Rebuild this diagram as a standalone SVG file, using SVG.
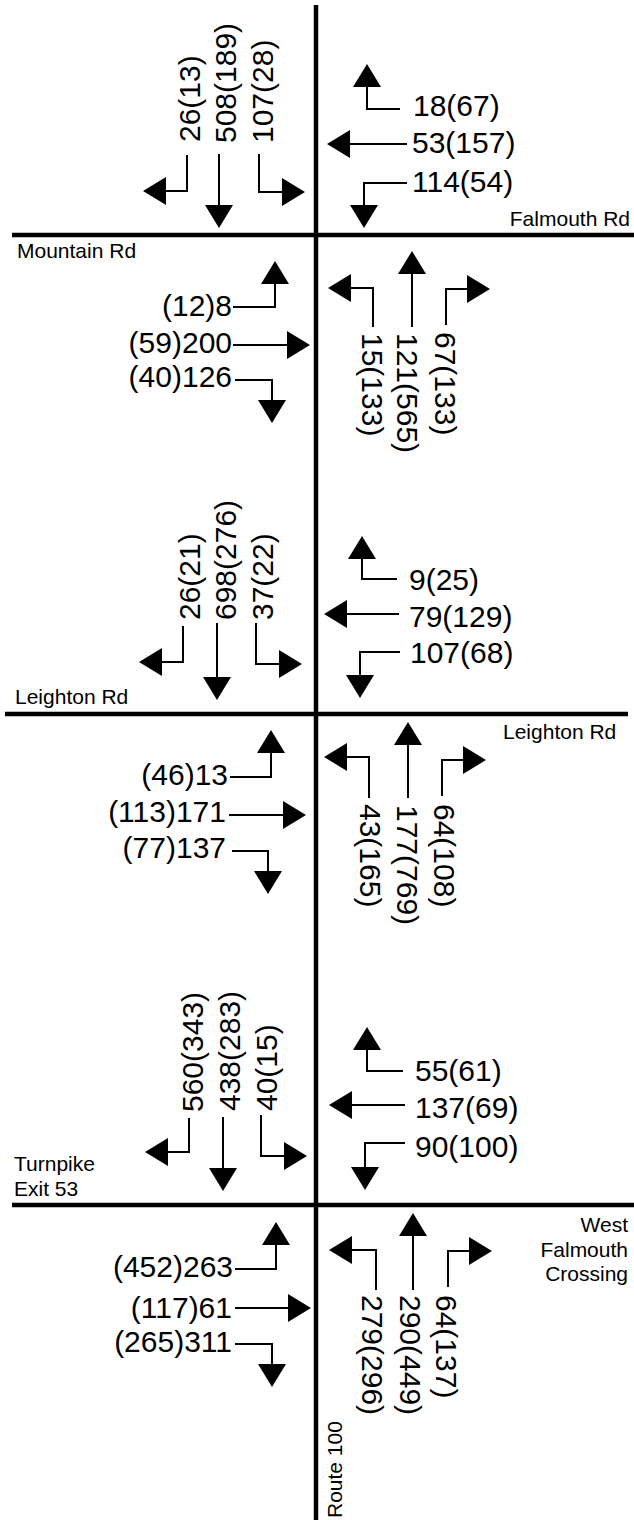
<svg xmlns="http://www.w3.org/2000/svg" width="634" height="1520" viewBox="0 0 634 1520">
<style>
.n{font-family:"Liberation Sans",Arial,sans-serif;font-size:30px;fill:#000}
.s{font-family:"Liberation Sans",Arial,sans-serif;font-size:21px;fill:#000}
.e{text-anchor:end}
.a{fill:none;stroke:#000;stroke-width:2;marker-end:url(#ah)}
.r{stroke:#000;stroke-width:4.5;fill:none}
</style>
<defs>
<marker id="ah" markerUnits="userSpaceOnUse" markerWidth="23" markerHeight="28" viewBox="0 0 23 28" refX="0" refY="14" orient="auto">
<path d="M0,0 L23,14 L0,28 Z" fill="#000"/>
</marker>
</defs>
<rect width="634" height="1520" fill="#fff"/>
<g id="roads">
<line class="r" x1="316" y1="5" x2="316" y2="1520"/>
<line class="r" x1="12" y1="235" x2="634" y2="235"/>
<line class="r" x1="5" y1="714" x2="628" y2="714"/>
<line class="r" x1="12" y1="1205" x2="634" y2="1205"/>
</g>
<g id="street-names">
<text class="s e" x="630" y="226">Falmouth Rd</text>
<text class="s" x="17" y="258">Mountain Rd</text>
<text class="s" x="15" y="704">Leighton Rd</text>
<text class="s" x="503" y="739">Leighton Rd</text>
<text class="s" x="14" y="1171">Turnpike</text>
<text class="s" x="14" y="1196">Exit 53</text>
<text class="s e" x="628" y="1232">West</text>
<text class="s e" x="628" y="1257">Falmouth</text>
<text class="s e" x="628" y="1281">Crossing</text>
<text class="s" transform="translate(342,1518) rotate(-90)">Route 100</text>
</g>
<g id="connectors">
<path class="a" d="M187,155 V191 H166"/>
<path class="a" d="M219,154 V205"/>
<path class="a" d="M259,154 V192 H282"/>
<path class="a" d="M400,109 H367 V87"/>
<path class="a" d="M407,144 H350"/>
<path class="a" d="M407,183 H364 V205"/>
<path class="a" d="M233,307 H275 V284"/>
<path class="a" d="M233,345 H287"/>
<path class="a" d="M235,380 H272 V400"/>
<path class="a" d="M373,327 V288 H351"/>
<path class="a" d="M412,327 V274"/>
<path class="a" d="M446,325 V289 H467"/>
<path class="a" d="M183,626 V662 H162"/>
<path class="a" d="M217,623 V677"/>
<path class="a" d="M256,623 V664 H279"/>
<path class="a" d="M397,579 H362 V559"/>
<path class="a" d="M399,614 H347"/>
<path class="a" d="M400,652 H360 V675"/>
<path class="a" d="M230,777 H271 V753"/>
<path class="a" d="M229,815 H283"/>
<path class="a" d="M232,851 H268 V871"/>
<path class="a" d="M369,798 V757 H347"/>
<path class="a" d="M408,798 V745"/>
<path class="a" d="M442,796 V760 H463"/>
<path class="a" d="M189,1118 V1152 H168"/>
<path class="a" d="M223,1117 V1168"/>
<path class="a" d="M261,1115 V1156 H284"/>
<path class="a" d="M403,1071 H367 V1050"/>
<path class="a" d="M405,1105 H352"/>
<path class="a" d="M405,1143 H365 V1167"/>
<path class="a" d="M235,1269 H276 V1245"/>
<path class="a" d="M235,1308 H288"/>
<path class="a" d="M235,1344 H272 V1364"/>
<path class="a" d="M376,1290 V1250 H352"/>
<path class="a" d="M413,1290 V1236"/>
<path class="a" d="M448,1287 V1251 H469"/>
</g>
<g id="mountain-falmouth">
<g id="sb1-right"><text class="n" transform="translate(200,142) rotate(-90)">26(13)</text></g>
<g id="sb1-thru"><text class="n" transform="translate(236,143) rotate(-90)">508(189)</text></g>
<g id="sb1-left"><text class="n" transform="translate(273,143) rotate(-90)">107(28)</text></g>
<g id="wb1-right"><text class="n" x="413" y="116">18(67)</text></g>
<g id="wb1-thru"><text class="n" x="412" y="153">53(157)</text></g>
<g id="wb1-left"><text class="n" x="412" y="192">114(54)</text></g>
<g id="eb1-left"><text class="n e" x="232" y="316">(12)8</text></g>
<g id="eb1-thru"><text class="n e" x="232" y="353">(59)200</text></g>
<g id="eb1-right"><text class="n e" x="232" y="387">(40)126</text></g>
<g id="nb1-left"><text class="n" transform="translate(362,333) rotate(90)">15(133)</text></g>
<g id="nb1-thru"><text class="n" transform="translate(397,333) rotate(90)">121(565)</text></g>
<g id="nb1-right"><text class="n" transform="translate(435,332) rotate(90)">67(133)</text></g>
</g>
<g id="leighton">
<g id="sb2-right"><text class="n" transform="translate(200,620) rotate(-90)">26(21)</text></g>
<g id="sb2-thru"><text class="n" transform="translate(236,620) rotate(-90)">698(276)</text></g>
<g id="sb2-left"><text class="n" transform="translate(273,620) rotate(-90)">37(22)</text></g>
<g id="wb2-right"><text class="n" x="409" y="590">9(25)</text></g>
<g id="wb2-thru"><text class="n" x="409" y="627">79(129)</text></g>
<g id="wb2-left"><text class="n" x="410" y="663">107(68)</text></g>
<g id="eb2-left"><text class="n e" x="228" y="785">(46)13</text></g>
<g id="eb2-thru"><text class="n e" x="226" y="822">(113)171</text></g>
<g id="eb2-right"><text class="n e" x="226" y="858">(77)137</text></g>
<g id="nb2-left"><text class="n" transform="translate(360,804) rotate(90)">43(165)</text></g>
<g id="nb2-thru"><text class="n" transform="translate(397,805) rotate(90)">177(769)</text></g>
<g id="nb2-right"><text class="n" transform="translate(434,804) rotate(90)">64(108)</text></g>
</g>
<g id="turnpike-west-falmouth">
<g id="sb3-right"><text class="n" transform="translate(203,1112) rotate(-90)">560(343)</text></g>
<g id="sb3-thru"><text class="n" transform="translate(240,1111) rotate(-90)">438(283)</text></g>
<g id="sb3-left"><text class="n" transform="translate(277,1111) rotate(-90)">40(15)</text></g>
<g id="wb3-right"><text class="n" x="415" y="1081">55(61)</text></g>
<g id="wb3-thru"><text class="n" x="415" y="1118">137(69)</text></g>
<g id="wb3-left"><text class="n" x="415" y="1157">90(100)</text></g>
<g id="eb3-left"><text class="n e" x="233" y="1277">(452)263</text></g>
<g id="eb3-thru"><text class="n e" x="232" y="1318">(117)61</text></g>
<g id="eb3-right"><text class="n e" x="232" y="1352">(265)311</text></g>
<g id="nb3-left"><text class="n" transform="translate(362,1295) rotate(90)">279(296)</text></g>
<g id="nb3-thru"><text class="n" transform="translate(400,1295) rotate(90)">290(449)</text></g>
<g id="nb3-right"><text class="n" transform="translate(436,1295) rotate(90)">64(137)</text></g>
</g>
</svg>
